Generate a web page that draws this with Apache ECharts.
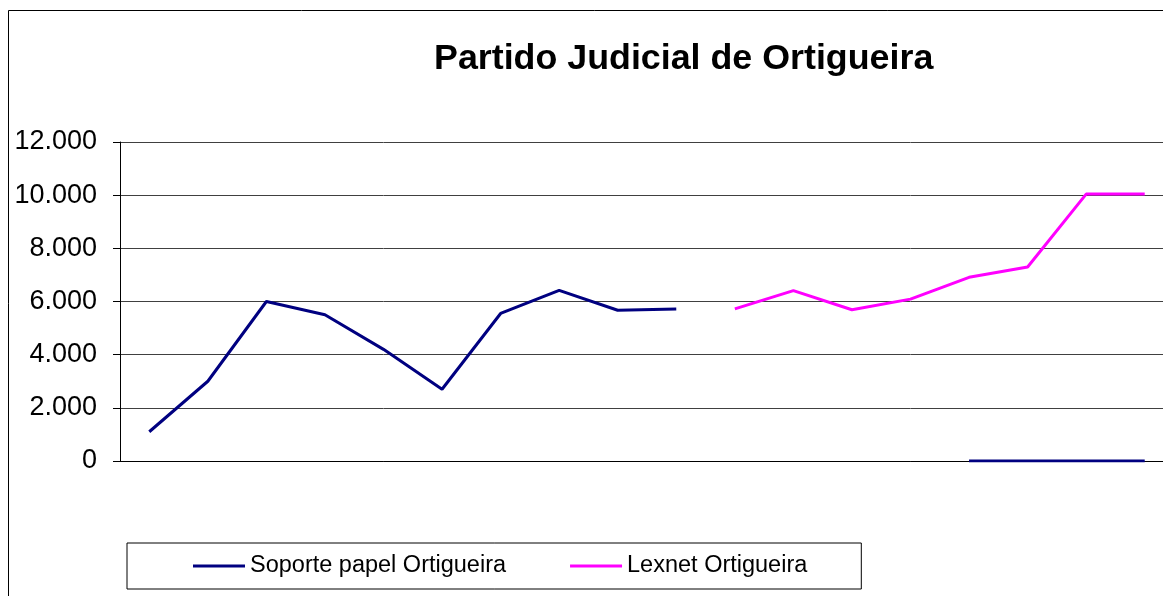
<!DOCTYPE html>
<html>
<head>
<meta charset="utf-8">
<script src="https://cdn.jsdelivr.net/npm/echarts@6/dist/echarts.min.js"></script>
<style>
  html, body { margin: 0; padding: 0; background: #fff; overflow: hidden; }
  #chart { width: 1180px; height: 596px; }
</style>
</head>
<body>
<div id="chart"></div>
<script>
const categories = ['1', '2', '3', '4', '5', '6', '7', '8', '9', '10', '11', '12', '13', '14', '15', '16', '17', '18']
const papel = [1100, 3000, 6000, 5500, 4200, 2700, 5550, 6420, 5670, 5720, null, null, null, null, 0, 0, 0, 0]
const lexnet = [null, null, null, null, null, null, null, null, null, null, 5720, 6410, 5690, 6090, 6910, 7300, 10040, 10040]
const yTicks = [0, 2000, 4000, 6000, 8000, 10000, 12000]

const font = 'Liberation Sans, Arial, sans-serif'
const c = echarts.init(document.getElementById('chart'))
c.setOption({
  animation: false,
  title: {
    text: 'Partido Judicial de Ortigueira',
    left: 429, top: 36,
    textStyle: { fontFamily: font, fontWeight: 'bold', fontSize: 35.8, color: '#000' }
  },
  graphic: [{
    type: 'rect', shape: { x: 8.5, y: 10.5, width: 1200, height: 700 },
    style: { fill: null, stroke: '#000', lineWidth: 1 }, silent: true, z: -1
  }],
  legend: {
    left: 127, top: 543,
    padding: [11, 54, 11, 66],
    itemGap: 64, itemWidth: 52, itemHeight: 3, icon: 'rect',
    borderColor: '#000', borderWidth: 1,
    textStyle: { fontFamily: font, fontSize: 23.5, color: '#000' },
    data: ['Soporte papel Ortigueira', 'Lexnet Ortigueira']
  },
  grid: { left: 120, top: 142, right: 6, height: 319 },
  xAxis: {
    type: 'category', data: categories, boundaryGap: true,
    axisLine: { lineStyle: { color: '#000', width: 1 } },
    axisTick: { show: false }, axisLabel: { show: false }
  },
  yAxis: {
    type: 'value', min: yTicks[0], max: yTicks[yTicks.length - 1], interval: 2000,
    axisLine: { show: true, lineStyle: { color: '#000', width: 1 } },
    axisTick: { show: true, length: 7, lineStyle: { color: '#000' } },
    axisLabel: {
      margin: 23, fontFamily: font, fontSize: 27, color: '#000',
      padding: [5, 0, 0, 0],
      formatter: v => String(v).replace(/\B(?=(\d{3})+(?!\d))/g, '.')
    },
    splitLine: { lineStyle: { color: '#404040', width: 1 } }
  },
  series: [
    {
      name: 'Soporte papel Ortigueira', type: 'line', data: papel,
      showSymbol: false, connectNulls: false,
      lineStyle: { width: 3, color: '#000080' }, itemStyle: { color: '#000080' }
    },
    {
      name: 'Lexnet Ortigueira', type: 'line', data: lexnet,
      showSymbol: false, connectNulls: false,
      lineStyle: { width: 3, color: '#ff00ff' }, itemStyle: { color: '#ff00ff' }
    }
  ]
})
</script>
</body>
</html>
